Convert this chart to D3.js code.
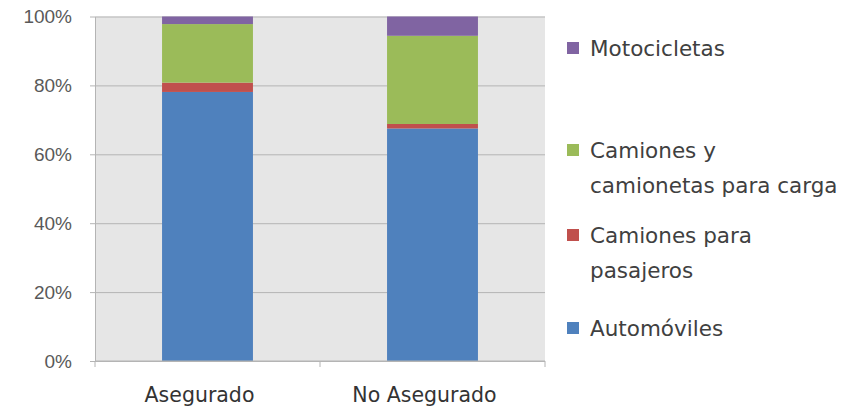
<!DOCTYPE html>
<html>
<head>
<meta charset="utf-8">
<script src="https://cdn.jsdelivr.net/npm/d3@7"></script>
<style>
  body { margin: 0; background: #fff; }
  svg { display: block; font-family: "DejaVu Sans", "Open Sans", sans-serif; }
</style>
</head>
<body>
<div id="chart"></div>
<script>
// data (percent of each bar)
var categories = ["Asegurado", "No Asegurado"];
var seriesNames = ["Automóviles", "Camiones para pasajeros", "Camiones y camionetas para carga", "Motocicletas"];
var automoviles = [78.1, 67.5];
var camionesPasajeros = [2.7, 1.3];
var camionesCarga = [17.0, 25.6];
var motocicletas = [2.2, 5.6];
var yTicks = [0, 20, 40, 60, 80, 100];
var legendLines = {
  "Motocicletas": ["Motocicletas"],
  "Camiones y camionetas para carga": ["Camiones y", "camionetas para carga"],
  "Camiones para pasajeros": ["Camiones para", "pasajeros"],
  "Automóviles": ["Automóviles"]
};
var colors = ["#4F81BD", "#C0504D", "#9BBB59", "#8064A2"];

var svgWidth = 852;
var svgHeight = 409;
var margin = { top: 16.5, left: 95, right: 307, bottom: 48 };
var width = svgWidth - margin.left - margin.right;
var height = svgHeight - margin.top - margin.bottom;

var svg = d3.select("#chart").append("svg")
  .attr("width", svgWidth)
  .attr("height", svgHeight);

var g = svg.append("g")
  .attr("transform", `translate(${margin.left}, ${margin.top})`);

// build table for the stack
var table = categories.map(function (c, i) {
  return {
    cat: c,
    "Automóviles": automoviles[i],
    "Camiones para pasajeros": camionesPasajeros[i],
    "Camiones y camionetas para carga": camionesCarga[i],
    "Motocicletas": motocicletas[i]
  };
});
var stacked = d3.stack().keys(seriesNames)(table);

var x = d3.scaleBand().domain(categories).range([0, width])
  .paddingInner(0.596).paddingOuter(0.298);
var y = d3.scaleLinear().domain([0, 100]).range([height, 0]);

// plot area
g.append("rect")
  .attr("width", width).attr("height", height)
  .attr("fill", "#E6E6E6");

// gridlines
g.append("g")
  .call(d3.axisLeft(y).tickValues(yTicks).tickSize(-width).tickFormat(""))
  .call(s => s.select(".domain").remove())
  .call(s => s.selectAll("line").attr("stroke", "#B4B4B4").attr("x1", -5));

// bars
g.selectAll(".series")
  .data(stacked)
  .enter().append("g")
  .attr("fill", (d, i) => colors[i])
  .selectAll("rect")
  .data(d => d)
  .enter().append("rect")
  .attr("x", d => x(d.data.cat))
  .attr("y", d => y(d[1]))
  .attr("height", d => y(d[0]) - y(d[1]))
  .attr("width", x.bandwidth());

// y axis labels
var yAxis = g.append("g")
  .call(d3.axisLeft(y).tickValues(yTicks).tickSize(0).tickPadding(23).tickFormat(d => d + "%"));
yAxis.select(".domain").attr("stroke", "#B4B4B4");
yAxis.selectAll("text").attr("fill", "#595959").style("font-size", "19px");

// x axis
var xAxis = g.append("g").attr("transform", `translate(0, ${height})`);
xAxis.append("line").attr("x1", 0).attr("x2", width).attr("stroke", "#B4B4B4");
xAxis.selectAll(".tk")
  .data([0, width / 2, width])
  .enter().append("line")
  .attr("x1", d => d).attr("x2", d => d)
  .attr("y1", 0).attr("y2", 6)
  .attr("stroke", "#B4B4B4");
xAxis.selectAll("text")
  .data(categories)
  .enter().append("text")
  .attr("x", d => x(d) + x.bandwidth() / 2 - 8)
  .attr("y", 41)
  .attr("text-anchor", "middle")
  .attr("fill", "#333")
  .style("font-size", "20.5px")
  .text(d => d);

// legend
var legendY = [48, 150, 235, 328];
var legendOrder = seriesNames.slice().reverse();
var legend = svg.append("g").attr("transform", "translate(567, 0)");
legendOrder.forEach(function (name, i) {
  var idx = seriesNames.indexOf(name);
  var item = legend.append("g").attr("transform", `translate(0, ${legendY[i]})`);
  item.append("rect")
    .attr("x", 0).attr("y", -6).attr("width", 12).attr("height", 12)
    .attr("fill", colors[idx]);
  legendLines[name].forEach(function (line, j) {
    item.append("text")
      .attr("x", 23)
      .attr("y", j * 35)
      .attr("dy", "0.35em")
      .attr("fill", "#404040")
      .style("font-size", "21.5px")
      .text(line);
  });
});
</script>
</body>
</html>
